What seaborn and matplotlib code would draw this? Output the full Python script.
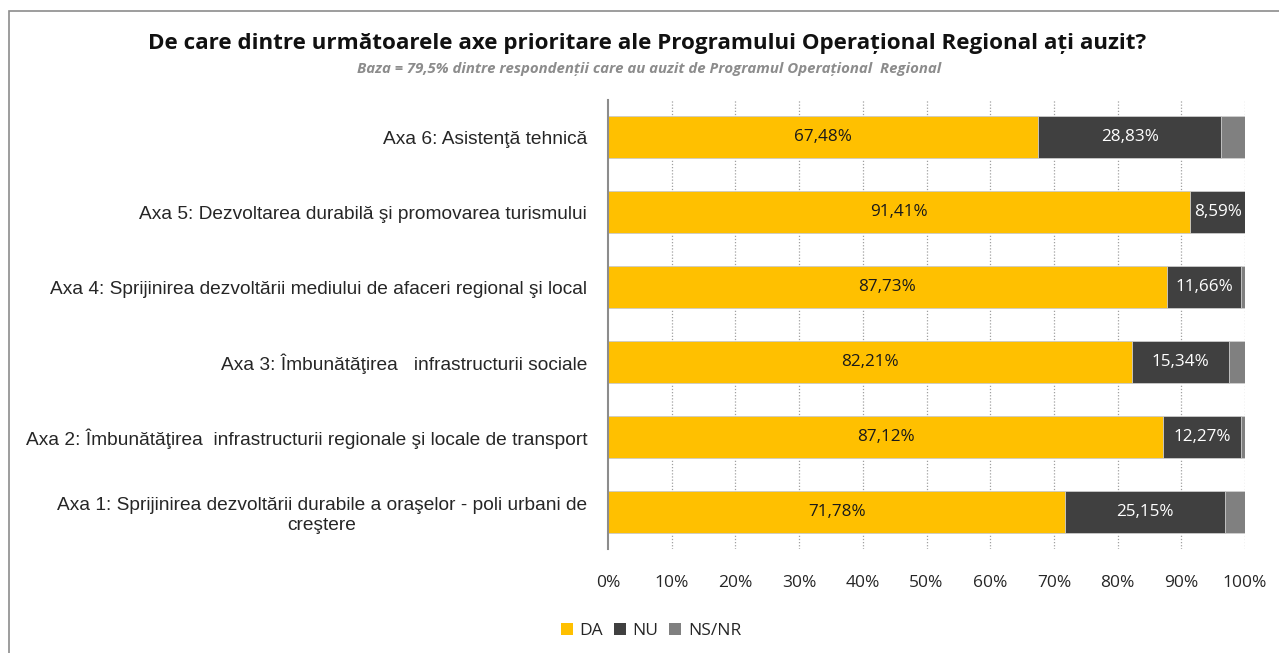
import pandas as pd
import seaborn as sns
import matplotlib.pyplot as plt
from matplotlib.patches import Rectangle, Patch

# Chart data (top to bottom)
categories = [
    'Axa 6: Asistenţă tehnică',
    'Axa 5: Dezvoltarea durabilă şi promovarea turismului',
    'Axa 4: Sprijinirea dezvoltării mediului de afaceri regional şi local',
    'Axa 3: Îmbunătăţirea   infrastructurii sociale',
    'Axa 2: Îmbunătăţirea  infrastructurii regionale şi locale de transport',
    'Axa 1: Sprijinirea dezvoltării durabile a oraşelor - poli urbani de\ncreştere',
]
da = [67.48, 91.41, 87.73, 82.21, 87.12, 71.78]
nu = [28.83, 8.59, 11.66, 15.34, 12.27, 25.15]
nsnr = [3.69, 0.00, 0.61, 2.45, 0.61, 3.07]
series_names = ['DA', 'NU', 'NS/NR']
tick_labels = ['0%', '10%', '20%', '30%', '40%', '50%', '60%', '70%', '80%', '90%', '100%']

colors = {'DA': '#FFC000', 'NU': '#404040', 'NS/NR': '#808080'}

df = pd.DataFrame({'Axa': categories, 'DA': da, 'NU': nu, 'NS/NR': nsnr})
df['cum_nu'] = df['DA'] + df['NU']
df['cum_ns'] = df['cum_nu'] + df['NS/NR']

sns.set_style('white')
plt.rcParams['font.family'] = ['Open Sans', 'DejaVu Sans']

fig = plt.figure(figsize=(12.79, 6.53), dpi=100)
ax = fig.add_axes([608 / 1279, 1 - 549 / 653, (1245 - 608) / 1279, 449 / 653])

# stacked bars drawn as overlapping cumulative totals
for col, name in [('cum_ns', 'NS/NR'), ('cum_nu', 'NU'), ('DA', 'DA')]:
    sns.barplot(data=df, x=col, y='Axa', orient='h', color=colors[name],
                width=0.56, edgecolor='#d0d0d0', linewidth=0.6, ax=ax,
                saturation=1)

ax.set_xlim(0, 100)
ax.set_ylim(5.5, -0.5)
ax.set_xticks(range(0, 101, 10))
ax.set_xticklabels(tick_labels, fontsize=12.5)
ax.tick_params(axis='x', length=0, pad=19)
ax.tick_params(axis='y', length=0, pad=15)
ax.set_yticks(range(len(categories)))
ax.set_yticklabels(categories, fontsize=13.8, family='Liberation Sans',
                   multialignment='center', linespacing=1.3)
ax.set_xlabel('')
ax.set_ylabel('')

for s in ['top', 'right', 'bottom']:
    ax.spines[s].set_visible(False)
ax.spines['left'].set_color('#8c8c8c')
ax.spines['left'].set_linewidth(1.5)

for x in range(10, 101, 10):
    ax.axvline(x, color='#a0a0a0', linestyle=(0, (1, 1.5)), linewidth=0.9, zorder=0)

# data labels
for i in range(len(categories)):
    ax.text(da[i] / 2, i, f"{da[i]:.2f}".replace('.', ',') + '%',
            ha='center', va='center', fontsize=12.3, color='#1a1a1a')
    ax.text(da[i] + nu[i] / 2, i, f"{nu[i]:.2f}".replace('.', ',') + '%',
            ha='center', va='center', fontsize=12.3, color='white')

fig.text(647 / 1279, 1 - 44 / 653,
         'De care dintre următoarele axe prioritare ale Programului Operațional Regional ați auzit?',
         ha='center', va='center', fontsize=16.1, fontweight='bold', color='#111111')
fig.text(649 / 1279, 1 - 69 / 653,
         'Baza = 79,5% dintre respondenții care au auzit de Programul Operațional  Regional',
         ha='center', va='center', fontsize=10.8, fontweight='bold', style='italic',
         color='#8c8c8c')

handles = [Patch(facecolor=colors[n], edgecolor='none', label=n) for n in series_names]
fig.legend(handles=handles, loc='center', bbox_to_anchor=(651 / 1279, 1 - 631 / 653),
           ncol=3, frameon=False, fontsize=12.5, handlelength=0.7, handleheight=0.7,
           handletextpad=0.4, columnspacing=0.6)

# outer chart frame
fig.patches.append(Rectangle((9 / 1279, -0.1), 1.2, 1 - 11 / 653 + 0.1,
                             transform=fig.transFigure, fill=False,
                             edgecolor='#8c8c8c', linewidth=1.2))

fig.savefig('out.png', dpi=100)
